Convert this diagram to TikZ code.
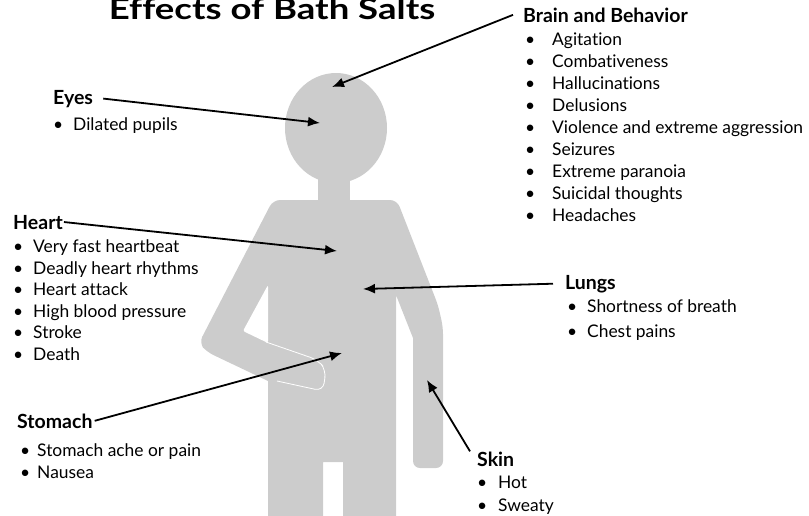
\documentclass[tikz,border=0pt]{standalone}
\usepackage{fontspec}
\setmainfont{Lato}[Ligatures=NoCommon]
\usetikzlibrary{arrows.meta}

\definecolor{bodygray}{HTML}{CCCCCC}

\tikzset{
  organ/.style={font=\fontsize{19.5}{22}\selectfont\bfseries, inner sep=0pt, anchor=base west},
  items/.style={font=\fontsize{17.4}{#1}\selectfont, align=left, inner sep=0pt, anchor=north west},
  items/.default=22pt,
  pointer/.style={line width=1.8pt, -{Latex[length=12pt,width=10pt]}},
}
% bullet with a fixed gap before the text
\newcommand{\itm}[2][20pt]{\makebox[#1][l]{\textbullet}#2}

\begin{document}
\begin{tikzpicture}[x=1pt, y=-1pt]
        \useasboundingbox (0,0) rectangle (809,515);
        \clip (0,0) rectangle (809,515);

        % the figure
        \fill[bodygray] (336,128) ellipse [x radius=51, y radius=55];
        \fill[bodygray] (318,175) rectangle (350,206);
        \fill[bodygray, rounded corners=7pt] (273,200) -- (397,200) -- (438,305)
          -- (443,327) -- (443,468) -- (413,468) [sharp corners] -- (413,338) -- (396,295)
          -- (396,525) -- (343,525) -- (343,462) -- (323,462) -- (323,525) -- (268,525)
          -- (268,381) [rounded corners=7pt] -- (207,352) -- (199,343) -- cycle;
        \fill[white, rounded corners=2pt] (268,285) -- (243,331) -- (268,343) -- cycle;
        \draw[white, line width=0.8pt, rounded corners=8pt] (266,342) -- (318,360) -- (326,370)
          -- (323,391) -- (277,381);

        \node [font=\fontsize{29}{31}\selectfont\bfseries, anchor=base, xscale=1.26] (title) at (272,19) {Effects of Bath Salts};

        % headings and their lists
        \node [organ] (brain) at (523,22) {Brain and Behavior};
        \node [items=21.9pt] (brainlist) at (525,33) {\itm[27pt]{Agitation}\\ \itm[27pt]{Combativeness}\\
          \itm[27pt]{Hallucinations}\\ \itm[27pt]{Delusions}\\ \itm[27pt]{Violence and extreme aggression}\\
          \itm[27pt]{Seizures}\\ \itm[27pt]{Extreme paranoia}\\ \itm[27pt]{Suicidal thoughts}\\ \itm[27pt]{Headaches}};

        \node [organ] (eyes) at (53,104) {Eyes};
        \node [items] (eyeslist) at (53,117) {\itm{Dilated pupils}};

        \node [organ] (heart) at (13,229) {Heart};
        \node [items=21.6pt] (heartlist) at (13,239.5) {\itm{Very fast heartbeat}\\ \itm{Deadly heart rhythms}\\
          \itm{Heart attack}\\ \itm{High blood pressure}\\ \itm{Stroke}\\ \itm{Death}};

        \node [organ] (lungs) at (565,289) {Lungs};
        \node [items=25pt] (lungslist) at (567,299.5) {\itm{Shortness of breath}\\ \itm{Chest pains}};

        \node [organ] (stomach) at (17,428) {Stomach};
        \node [items] (stomachlist) at (20,443.5) {\itm[17pt]{Stomach ache or pain}\\ \itm[17pt]{Nausea}};

        \node [organ] (skin) at (477,466) {Skin};
        \node [items=23pt] (skinlist) at (477,475.5) {\itm[21pt]{Hot}\\ \itm[21pt]{Sweaty}};

        % where the arrows point
        \coordinate (braintip) at (332,87);
        \coordinate (eyestip) at (320,123);
        \coordinate (hearttip) at (337,251);
        \coordinate (lungstip) at (363,289);
        \coordinate (stomachtip) at (342,353);
        \coordinate (skintip) at (427,380);

        \draw [pointer] ([xshift=-10pt]brain.west) -- (braintip);
        \draw [pointer] ([xshift=10pt]eyes.east) -- (eyestip);
        \draw [pointer] ([xshift=1pt]heart.east) -- (hearttip);
        \draw [pointer] ([xshift=-12pt]lungs.west) -- (lungstip);
        \draw [pointer] ([xshift=2pt]stomach.east) -- (stomachtip);
        \draw [pointer] ([xshift=-7pt]skin.north west) -- (skintip);
    \end{tikzpicture}
\end{document}
